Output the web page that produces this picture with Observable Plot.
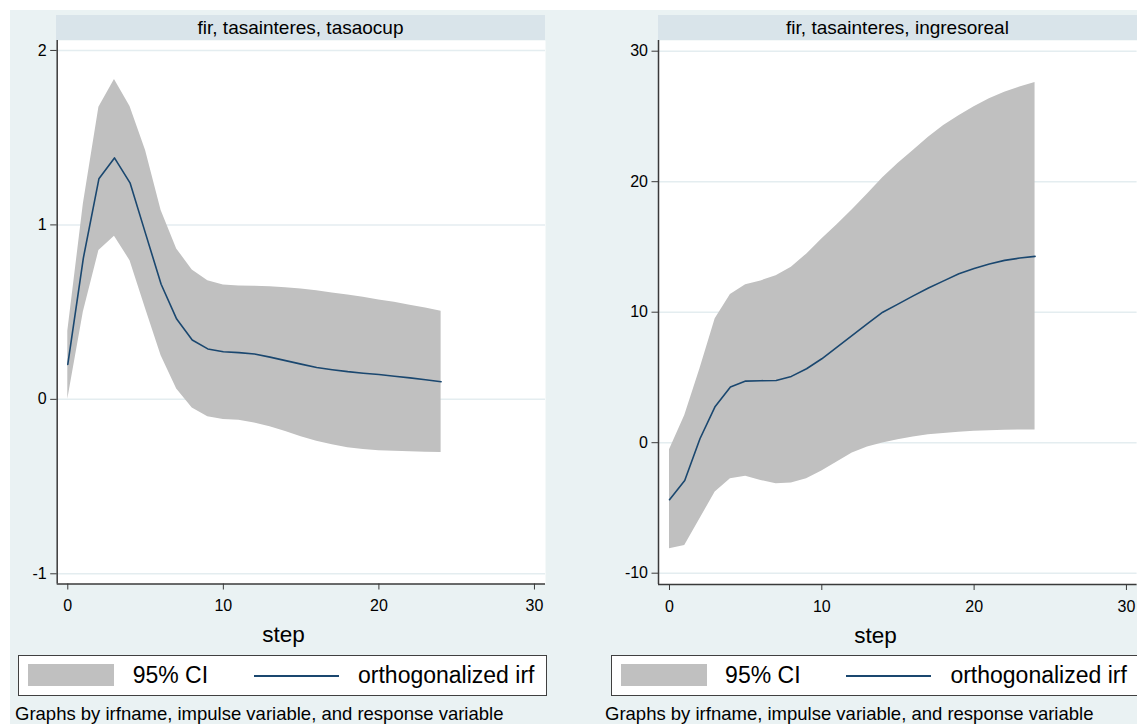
<!DOCTYPE html>
<html><head><meta charset="utf-8">
<script src="https://cdn.jsdelivr.net/npm/d3@7"></script>
<script src="https://cdn.jsdelivr.net/npm/@observablehq/plot@0.6"></script>
<style>
body{margin:0;background:#fff;font-family:"Liberation Sans",Arial,sans-serif;}
#root{position:relative;width:1137px;height:724px;overflow:hidden;background:#fff;}
.bg{position:absolute;left:10px;top:10px;width:1127px;height:714px;background:#eaf2f3;}
.strip{position:absolute;top:15px;height:25px;background:#d9e4ea;color:#000;font-size:19px;line-height:25px;text-align:center;white-space:nowrap;}
.panel{position:absolute;top:40px;}
.lbox{position:absolute;top:655px;height:41px;width:529px;box-sizing:border-box;border:1.5px solid #404040;background:#fff;}
.sw{position:absolute;top:664px;width:86px;height:22px;background:#c0c0c0;}
.ln{position:absolute;top:675px;width:85px;height:2px;background:#1a476f;}
.lt{position:absolute;top:663.5px;font-size:23px;line-height:23px;white-space:nowrap;color:#000;}
.foot{position:absolute;top:704.6px;font-size:18.5px;line-height:18.5px;white-space:nowrap;color:#000;}
</style>
</head><body>
<div id="root">
  <div class="bg"></div>
</div>
<script>
// ---- data ----
const steps = [0,1,2,3,4,5,6,7,8,9,10,11,12,13,14,15,16,17,18,19,20,21,22,23,24];

const tasaocupIrf = [0.20,0.81,1.264,1.384,1.241,0.95,0.66,0.46,0.34,0.289,0.273,0.268,0.26,0.242,0.222,0.202,0.183,0.17,0.159,0.15,0.142,0.132,0.123,0.112,0.101];
const tasaocupLo  = [0.0,0.50,0.853,0.935,0.795,0.52,0.25,0.06,-0.05,-0.10,-0.115,-0.12,-0.135,-0.157,-0.185,-0.215,-0.24,-0.26,-0.277,-0.287,-0.294,-0.298,-0.301,-0.303,-0.304];
const tasaocupHi  = [0.39,1.12,1.674,1.833,1.678,1.426,1.082,0.862,0.742,0.68,0.656,0.65,0.648,0.645,0.64,0.632,0.622,0.61,0.598,0.585,0.57,0.556,0.54,0.523,0.505];

const ingresoIrf = [-4.37,-2.89,0.3,2.78,4.26,4.72,4.75,4.77,5.08,5.67,6.43,7.33,8.22,9.12,10.0,10.62,11.25,11.85,12.4,12.95,13.35,13.7,13.97,14.15,14.28];
const ingresoLo  = [-8.12,-7.87,-5.83,-3.78,-2.76,-2.58,-2.89,-3.14,-3.09,-2.76,-2.17,-1.48,-0.79,-0.33,-0.02,0.22,0.43,0.61,0.71,0.81,0.87,0.92,0.95,0.97,0.97];
const ingresoHi  = [-0.54,2.09,5.67,9.5,11.36,12.1,12.4,12.8,13.45,14.45,15.6,16.7,17.85,19.05,20.3,21.4,22.4,23.4,24.3,25.05,25.75,26.35,26.85,27.25,27.6];

const panelTitles = ["fir, tasainteres, tasaocup", "fir, tasainteres, ingresoreal"];
const xTicks = [0,10,20,30];
const yTicksLeft = [-1,0,1,2];
const yTicksRight = [-10,0,10,20,30];
const xTitle = "step";
const legendLabels = ["95% CI", "orthogonalized irf"];
const footText = "Graphs by irfname, impulse variable, and response variable";

// ---- drawing ----
const root = document.getElementById("root");
function el(cls, style, text) {
  const d = document.createElement("div");
  d.className = cls;
  Object.assign(d.style, style);
  if (text != null) d.textContent = text;
  root.appendChild(d);
  return d;
}

function panel({irf, lo, hi, xDomain, yDomain, yTicks, width, height, ml, mr, mb, stepDx}) {
  const data = steps.map((s, i) => ({step: s, irf: irf[i], lo: lo[i], hi: hi[i]}));
  return Plot.plot({
    width, height,
    marginLeft: ml, marginRight: mr, marginTop: 0, marginBottom: mb,
    style: {background: "transparent", fontFamily: "'Liberation Sans', Arial, sans-serif", fontSize: "16px", color: "#000", overflow: "visible"},
    x: {domain: xDomain},
    y: {domain: yDomain},
    marks: [
      Plot.frame({fill: "#fff", stroke: "none"}),
      Plot.gridY(yTicks, {stroke: "#e4edf0", strokeOpacity: 1, strokeWidth: 1.5}),
      Plot.areaY(data, {x: "step", y1: "lo", y2: "hi", fill: "#c0c0c0"}),
      Plot.lineY(data, {x: "step", y: "irf", stroke: "#1a476f", strokeWidth: 1.6}),
      Plot.ruleX([xDomain[0]], {stroke: "#3a3a3a", strokeWidth: 1.5}),
      Plot.ruleY([yDomain[0]], {stroke: "#3a3a3a", strokeWidth: 1.5}),
      Plot.axisY(yTicks, {tickSize: 6.5, tickPadding: 4, tickFormat: d => String(d), label: null, stroke: "#3a3a3a", fontSize: 16}),
      Plot.axisX(xTicks, {tickSize: 6, tickPadding: 10, tickFormat: d => String(d), label: null, stroke: "#3a3a3a", fontSize: 16}),
      Plot.text([xTitle], {frameAnchor: "bottom", lineAnchor: "middle", dy: 50.8, dx: stepDx, fontSize: 22.5, text: d => d, fill: "#000"})
    ]
  });
}

// titles strips
el("strip", {left: "56px", width: "489px"}, panelTitles[0]);
el("strip", {left: "658px", width: "479px"}, panelTitles[1]);

// panels
const left = panel({
  irf: tasaocupIrf, lo: tasaocupLo, hi: tasaocupHi,
  xDomain: [-0.681, 30.71], yDomain: [-1.0585, 2.057], yTicks: yTicksLeft,
  width: 560, height: 620, ml: 46.7, mr: 25, mb: 76.5, stepDx: -17.9
});
const pl = el("panel", {left: "10px"}); pl.appendChild(left);

const right = panel({
  irf: ingresoIrf, lo: ingresoLo, hi: ingresoHi,
  xDomain: [-0.722, 30.70], yDomain: [-10.866, 30.82], yTicks: yTicksRight,
  width: 537, height: 620, ml: 58, mr: 0.4, mb: 76, stepDx: -22.3
});
const pr = el("panel", {left: "600px"}); pr.appendChild(right);

// legends + footers
[0, 592.4].forEach(off => {
  el("lbox", {left: (18.3 + off) + "px"});
  el("sw", {left: (28.3 + off) + "px"});
  el("lt", {left: (132.7 + off) + "px"}, legendLabels[0]);
  el("ln", {left: (254 + off) + "px"});
  el("lt", {left: (358 + off) + "px"}, legendLabels[1]);
});
el("foot", {left: "15px"}, footText);
el("foot", {left: "605px"}, footText);
</script>
</body></html>
